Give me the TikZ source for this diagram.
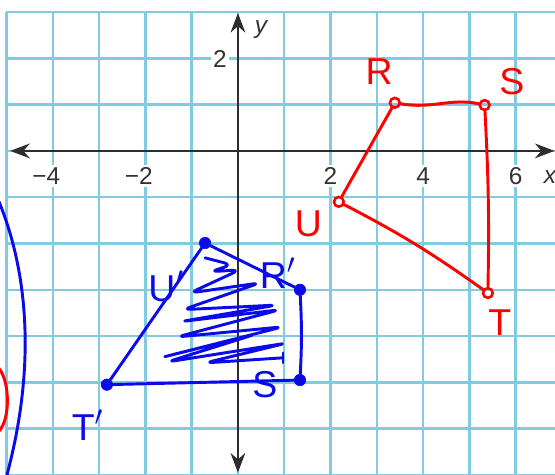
\documentclass[tikz,border=0pt]{standalone}
\usepackage{fontspec}
\setmainfont{Liberation Sans}
\usetikzlibrary{arrows.meta,positioning,calc}
\definecolor{azulGrade}{RGB}{128,202,226}
\definecolor{vermelho}{RGB}{255,0,0}
\definecolor{azulCaneta}{RGB}{10,10,235}
\definecolor{cinzaEixo}{RGB}{45,45,45}
\tikzset{
    grade/.style={draw=azulGrade, line width=1.5pt},
    eixo/.style={
        draw=cinzaEixo,
        line width=1.7pt,
        {Stealth[length=12pt,width=9pt]}-{Stealth[length=12pt,width=9pt]}
    },
    numero/.style={fill=white, inner sep=1.5pt, text=black!80, font=\fontsize{15}{16}\selectfont},
    caneta/.style={line width=1.8pt, line cap=round, line join=round},
    tracoVermelho/.style={caneta, draw=vermelho},
    tracoAzul/.style={caneta, draw=azulCaneta},
    pontoVermelho/.style={circle, draw=vermelho, line width=1.6pt, inner sep=0pt, minimum size=6pt},
    pontoAzul/.style={circle, draw=azulCaneta, fill=azulCaneta, inner sep=0pt, minimum size=7pt},
    letra/.style={inner sep=0pt, text depth=0pt, font=\fontsize{23}{24}\selectfont},
    letraVermelha/.style={letra, text=vermelho},
    letraAzul/.style={letra, text=azulCaneta}
}

\begin{document}
\begin{tikzpicture}
    \useasboundingbox[fill=white] (-5.14,-6.98) rectangle (6.85,3.26);
    \clip (-5.14,-6.98) rectangle (6.85,3.26);

    % grade
    \foreach \gx in {-5,...,7}
        \draw[grade] (\gx,3) -- (\gx,-7.2);
    \foreach \gy in {-7,...,3}
        \draw[grade] (-5,\gy) -- (7.2,\gy);

    % eixos
    \draw[eixo] (-4.92,0) -- (6.84,0);
    \draw[eixo] (0,-6.95) -- (0,2.98);

    \node[numero] (nx1) at (-4,-0.54) {\hspace*{-8pt}−4};
    \node[numero] (nx2) at (-2,-0.54) {\hspace*{-8pt}−2};
    \node[numero] (nx3) at (2,-0.54) {2};
    \node[numero] (nx4) at (4,-0.54) {4};
    \node[numero] (nx5) at (6,-0.54) {6};
    \node[numero, font=\fontsize{15}{16}\selectfont\itshape] (rotx) at (6.74,-0.56) {x};
    \node[numero] (ny1) at (-0.39,1.99) {2};
    \node[numero, fill=none, font=\fontsize{15}{16}\selectfont\itshape] (roty) at (0.5,2.62) {y};

    % figura vermelha RSTU
    \node[pontoVermelho] (R) at (3.39,1.04) {};
    \node[pontoVermelho] (S) at (5.33,0.99) {};
    \node[pontoVermelho] (T) at (5.40,-3.07) {};
    \node[pontoVermelho] (U) at (2.18,-1.10) {};
    \draw[tracoVermelho] (U) -- (R);
    \draw[tracoVermelho] (R) .. controls (4.2,0.9) and (4.6,1.15) .. (S);
    \draw[tracoVermelho] (S) to[bend left=2] (T);
    \draw[tracoVermelho] (T) to[bend right=4] (U);
    \node[letraVermelha] (labR) at (3.05,1.72) {R};
    \node[letraVermelha] (labS) at (5.92,1.50) {S};
    \node[letraVermelha] (labT) at (5.66,-3.70) {T};
    \node[letraVermelha] (labU) at (1.52,-1.58) {U};

    % figura azul R'S'T'U'
    \node[pontoAzul] (Up) at (-0.71,-1.99) {};
    \node[pontoAzul] (Rp) at (1.34,-3.0) {};
    \node[pontoAzul] (Sp) at (1.34,-4.95) {};
    \node[pontoAzul] (Tp) at (-2.83,-5.05) {};
    \draw[tracoAzul] (Up) -- (Rp);
    \draw[tracoAzul] (Rp) to[bend left=3] (Sp);
    \draw[tracoAzul] (Sp) -- (Tp);
    \draw[tracoAzul] (Tp) -- (Up);
    \node[letraAzul] (labUp) at (-1.55,-2.92) {U$'$};
    \node[letraAzul] (labRp) at (0.86,-2.64) {R$'$};
    \node[letraAzul] (labSp) at (0.58,-5.05) {S};
    \node[letraAzul] (labTp) at (-3.25,-5.92) {T$'$};

    % hachura
    \draw[tracoAzul, rounded corners=5pt]
        (-0.71,-2.31) -- (-0.13,-2.46) -- (-0.60,-2.61) -- (0.04,-2.57)
        -- (-1.04,-3.07) -- (0.48,-2.85) -- (-1.19,-3.43) -- (0.84,-3.33)
        -- (-1.25,-3.69) -- (0.91,-3.43) -- (-1.32,-4.02) -- (0.97,-3.80)
        -- (-1.68,-4.47) -- (0.41,-3.95) -- (-1.53,-4.56) -- (1.06,-4.15)
        -- (-0.71,-4.58) -- (0.97,-4.47);
    \draw[tracoAzul, line width=1.5pt] (0.97,-4.36) -- (0.97,-4.58);

    % arcos a mao livre
    \draw[tracoAzul] (-5.16,-1.10) .. controls (-4.55,-2.6) and (-4.35,-4.6) .. (-4.99,-7.0);
    \draw[tracoVermelho] (-5.16,-4.70) .. controls (-4.92,-5.0) and (-4.92,-5.8) .. (-5.16,-6.05);
\end{tikzpicture}
\end{document}
